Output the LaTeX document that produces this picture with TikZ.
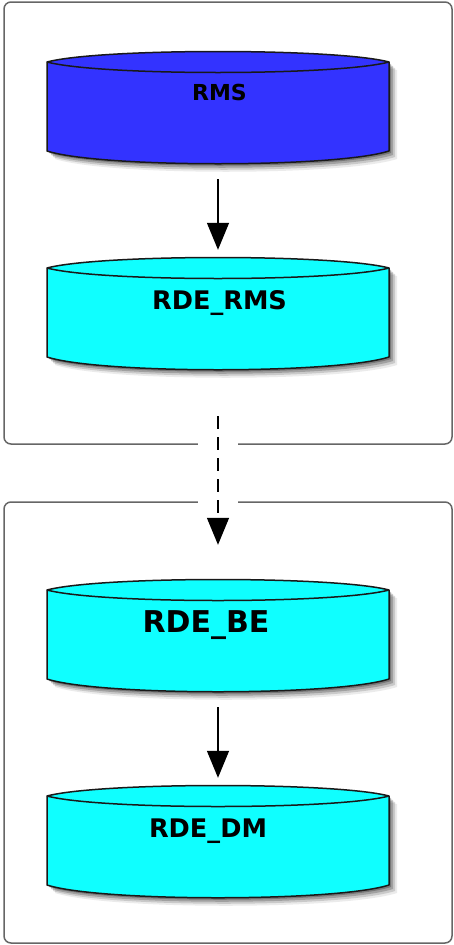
\documentclass[tikz,border=0pt]{standalone}
\usepackage{fontspec}
\setmainfont{DejaVu Sans}
\usetikzlibrary{arrows.meta, shadows}

\definecolor{drumblue}{RGB}{51,51,255}
\definecolor{drumcyan}{RGB}{15,255,255}

\tikzset{
	panel/.style = {draw = black!60, line width = 1.5 pt, rounded corners = 7 pt, fill = white, inner sep = 0 pt},
	drumbody/.style = {draw = black!90, line width = 1.5 pt, line join = round},
	drumshadow/.style = {
		drop shadow = {shadow xshift = 8 pt, shadow yshift = -8 pt, opacity = 0.08, fill = black},
		drop shadow = {shadow xshift = 6 pt, shadow yshift = -6 pt, opacity = 0.14, fill = black},
		drop shadow = {shadow xshift = 4 pt, shadow yshift = -4 pt, opacity = 0.2, fill = black},
		drop shadow = {shadow xshift = 2 pt, shadow yshift = -2 pt, opacity = 0.25, fill = black}
	},
	drumlabel/.style = {inner sep = 0 pt, anchor = base, text = black},
	flow/.style = {line width = 1.4 pt, -{Triangle[length=27pt, width=22pt]}}
}

\begin{document}
\begin{tikzpicture}[x = 1 pt, y = -1 pt]

	\useasboundingbox (0, 0) rectangle (453, 945);
	\fill [white] (0, 0) rectangle (453, 945);

	% Panels

	\node [panel, minimum width = 448 pt, minimum height = 442 pt] (upper) at (228, 223) {};
	\node [panel, minimum width = 448 pt, minimum height = 441 pt] (lower) at (228, 722.5) {};
	\node [fill = white, inner sep = 0 pt, minimum width = 40 pt, minimum height = 66 pt] (gap) at (218, 473) {};

	% Drums

	\foreach \name/\top/\tint in {rms/52/drumblue, rderms/258/drumcyan, rdebe/580/drumcyan, rdedm/786/drumcyan}
	{
		\draw [drumbody, drumshadow, fill = \tint] (47, \top + 10) .. controls (100, \top - 4) and (336, \top - 4) .. (389, \top + 10) -- (389, \top + 99) .. controls (336, \top + 116) and (100, \top + 116) .. (47, \top + 99) -- cycle;
		\draw [drumbody] (47, \top + 10) .. controls (100, \top + 24) and (336, \top + 24) .. (389, \top + 10);
		\node [inner sep = 0 pt, minimum width = 342 pt, minimum height = 112 pt] (\name) at (218, \top + 56) {};
	}

	% Labels

	\node [drumlabel, font = \bfseries\fontsize{22}{22}\selectfont] (rmslabel) at (219.5, 100) {RMS};
	\node [drumlabel, font = \bfseries\fontsize{25.6}{26}\selectfont] (rdermslabel) at (219.5, 309) {RDE\_RMS};
	\node [drumlabel, font = \bfseries\fontsize{30}{30}\selectfont] (rdebelabel) at (206, 632) {RDE\_BE};
	\node [drumlabel, font = \bfseries\fontsize{25.6}{26}\selectfont] (rdedmlabel) at (208, 837) {RDE\_DM};

	% Arrows

	\draw [flow, shorten <= 15 pt, shorten >= 8 pt] (rms.south) -- (rderms.north);
	\draw [flow, dash pattern = on 13 pt off 8 pt, shorten <= 46 pt, shorten >= 35 pt] (rderms.south) -- (rdebe.north);
	\draw [flow, shorten <= 15 pt, shorten >= 8 pt] (rdebe.south) -- (rdedm.north);

\end{tikzpicture}
\end{document}
